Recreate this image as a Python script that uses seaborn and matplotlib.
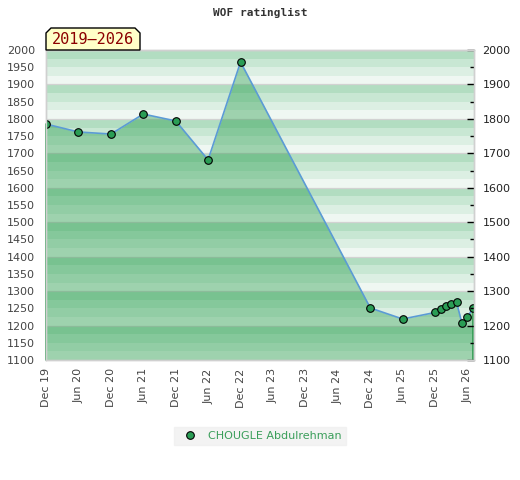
import matplotlib
matplotlib.use("Agg")
import matplotlib.pyplot as plt
import matplotlib.dates as mdates
from matplotlib.patches import Polygon
from matplotlib.lines import Line2D
from matplotlib.ticker import MultipleLocator
import seaborn as sns
import pandas as pd

# ---- data ----
dates = ["2019-12-01", "2020-06-01", "2020-12-01", "2021-06-01", "2021-12-01",
         "2022-06-01", "2022-12-01", "2024-12-01", "2025-06-01", "2025-12-01",
         "2026-01-01", "2026-02-01", "2026-03-01", "2026-04-01", "2026-05-01",
         "2026-06-01", "2026-07-01"]
ratings = [1785, 1762, 1756, 1814, 1794, 1681, 1965, 1251, 1219, 1238,
           1249, 1256, 1262, 1267, 1207, 1224, 1250]
tick_dates = ["2019-12-01", "2020-06-01", "2020-12-01", "2021-06-01", "2021-12-01",
              "2022-06-01", "2022-12-01", "2023-06-01", "2023-12-01", "2024-06-01",
              "2024-12-01", "2025-06-01", "2025-12-01", "2026-06-01"]
player = "CHOUGLE Abdulrehman"
title = "WOF ratinglist"
period = "2019\u20132026"
y_min, y_max = 1100, 2000

df = pd.DataFrame({"date": pd.to_datetime(dates), "rating": ratings})

sns.set_theme(style="white")
plt.rcParams['font.family'] = ['DejaVu Sans']

fig = plt.figure(figsize=(5.2, 4.8), dpi=100)
W, H = 520, 480
ax = fig.add_axes([46 / W, 1 - 360 / H, (474 - 46) / W, (360 - 50) / H])

# striped background
stripe_cols = ["#eff7f2", "#dcefe3", "#c8e7d3", "#b2ddc1"]
for base in range(y_min, y_max, 100):
    for i in range(4):
        ax.axhspan(base + 25 * i, base + 25 * (i + 1), color=stripe_cols[i], lw=0, zorder=0)
for yv in range(y_min, y_max + 1, 100):
    ax.axhline(yv, color="#d2d2d2", lw=0.9, zorder=0.5)

# fill under line
ax.fill_between(df["date"], df["rating"], y_min, color="#1a9841", alpha=0.38,
                lw=0, zorder=1)
ax.plot([df["date"].iloc[0]] * 2, [y_min, df["rating"].iloc[0]], color="#2e9a50", lw=1.2,
        zorder=1.5, clip_on=False)
ax.plot([df["date"].iloc[-1]] * 2, [y_min, df["rating"].iloc[-1]], color="#2e9a50", lw=1.2,
        zorder=1.5, clip_on=False)

sns.lineplot(data=df, x="date", y="rating", ax=ax, color="#5b9bd5", lw=1.2, zorder=2)
sns.scatterplot(data=df, x="date", y="rating", ax=ax, color="#2a9d55", edgecolor="black",
                linewidth=0.8, s=30, zorder=3)

ax.set_xlim(pd.Timestamp(dates[0]), pd.Timestamp("2026-07-08"))
ax.set_ylim(y_min, y_max)
ax.set_xlabel("")
ax.set_ylabel("")
ax.set_xticks(pd.to_datetime(tick_dates))
ax.xaxis.set_major_formatter(mdates.DateFormatter("%b %y"))
ax.tick_params(axis="x", rotation=90, labelsize=8, colors="#444444", length=0, pad=6)
ax.yaxis.set_major_locator(MultipleLocator(50))
ax.tick_params(axis="y", labelsize=8, colors="#444444", length=0, pad=8)

ax2 = ax.twinx()
ax2.set_ylim(y_min, y_max)
ax2.yaxis.set_major_locator(MultipleLocator(100))
ax2.yaxis.set_minor_locator(MultipleLocator(50))
ax2.tick_params(axis="y", which="major", direction="in", length=5, width=1, colors="black",
                labelsize=8, labelcolor="#222222", pad=6)
ax2.tick_params(axis="y", which="minor", direction="in", length=3, width=1, colors="black")
ax2.yaxis.set_ticks_position("right")

for a in (ax, ax2):
    for s in a.spines.values():
        s.set_color("#d0d0d0")
        s.set_linewidth(1)

# title
fig.text(0.5, 1 - 13 / H, title, ha="center", va="center", fontsize=8, fontweight="bold",
         family="DejaVu Sans Mono", color="#333333")

# period label box with chamfered top corners
x0, x1, yb, yt, c = 46, 140, 50, 28, 5
pts = [(x0, yb), (x0, yt + c), (x0 + c, yt), (x1 - c, yt), (x1, yt + c), (x1, yb)]
pts = [(px / W, 1 - py / H) for px, py in pts]
fig.patches.append(Polygon(pts, closed=True, transform=fig.transFigure, facecolor="#ffffc8",
                           edgecolor="black", lw=1, zorder=5))
fig.text((x0 + x1) / 2 / W, 1 - 40 / H, period, ha="center", va="center", fontsize=11,
         family="DejaVu Sans Mono", color="#8b0000", zorder=6)

# legend
h = Line2D([], [], marker="o", ls="none", markerfacecolor="#2a9d55", markeredgecolor="black",
           markersize=5.5, markeredgewidth=0.8)
leg = fig.legend([h], [player], loc="center", bbox_to_anchor=(0.5, 1 - 436 / H), frameon=True,
                 fontsize=8, handletextpad=0.6, borderpad=0.4, fancybox=False)
leg.get_frame().set_facecolor("#f0f0f0")
leg.get_frame().set_edgecolor("#f0f0f0")
for t in leg.get_texts():
    t.set_color("#3a9e5a")

fig.savefig("out.png", dpi=100)
